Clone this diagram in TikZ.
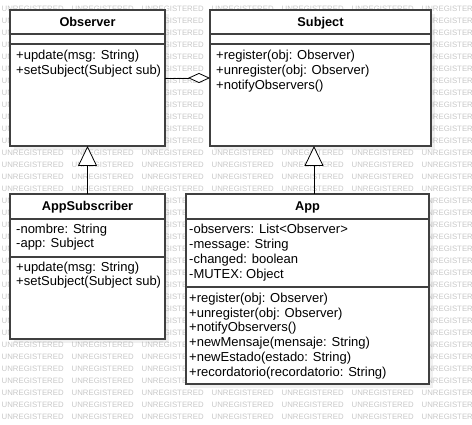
\documentclass[tikz,border=0pt]{standalone}
\usepackage{fontspec}
\setmainfont{Liberation Sans}
\usetikzlibrary{arrows.meta,calc,shadows}

\begin{document}
\begin{tikzpicture}
    [   x = 1pt, y = -1pt
    ,   font = \fontsize{13}{15}\selectfont
    ,   umlclass/.style =
        {   draw = black!75
        ,   line width = 1.2pt
        ,   fill = white
        ,   rectangle
        ,   inner sep = 0mm
        ,   outer sep = 0mm
        ,   drop shadow = {shadow xshift = 4pt, shadow yshift = -4pt, opacity = 0.12}
        }
    ,   title/.style =
        {   anchor = base
        ,   inner sep = 0mm
        ,   font = \fontsize{12.75}{15}\selectfont\bfseries
        }
    ,   member/.style =
        {   anchor = base west
        ,   inner sep = 0mm
        }
    ,   sep/.style = {draw = black!75, line width = 1.2pt}
    ,   wmark/.style =
        {   anchor = west
        ,   inner sep = 0mm
        ,   text = black!22
        ,   font = \fontsize{7.8}{8}\selectfont
        }
    ,   aggr/.style = {draw = black, line width = 0.8pt, -{Diamond[fill = white, length = 22pt, width = 10pt]}}
    ,   inherit/.style = {draw = black, line width = 0.8pt, -{Triangle[fill = white, length = 20pt, width = 19pt]}}
    ]
    \useasboundingbox (0,0) rectangle (472,425);

    % watermark
    \foreach\r in {0,...,34}
    {   \foreach\c in {0,...,6}
        {   \node[wmark] (wm\r-\c) at (\c*70+1.5, 8.7+12*\r) {UNREGISTERED};
        }
    }

    % classes
    \node[umlclass, minimum width = 155pt, minimum height = 136pt] (obs)  at ( 87.5, 78)   {};
    \node[umlclass, minimum width = 221pt, minimum height = 136pt] (subj) at (320.5, 78)   {};
    \node[umlclass, minimum width = 155pt, minimum height = 145pt] (asub) at ( 87.5,266.5) {};
    \node[umlclass, minimum width = 243pt, minimum height = 190pt] (app)  at (307.5,289)   {};

    \node[title] (obsT)  at ($(obs.north)+(0,17)$)  {Observer};
    \node[title] (subjT) at ($(subj.north)+(0,17)$) {Subject};
    \node[title] (asubT) at ($(asub.north)+(0,17)$) {AppSubscriber};
    \node[title] (appT)  at ($(app.north)+(0,17)$)  {App};

    \foreach\n/\a/\b in {obs/24/34,subj/24/34,asub/25/63,app/25/93}
    {   \draw[sep] ($(\n.north west)+(0,\a)$) -- ($(\n.north east)+(0,\a)$);
        \draw[sep] ($(\n.north west)+(0,\b)$) -- ($(\n.north east)+(0,\b)$);
    }

    \foreach\txt [count=\i] in {+update(msg: String),+setSubject(Subject sub)}
    {   \node[member] (obsM\i) at ($(obs.north west)+(6,35+15*\i)$) {\txt};
    }
    \foreach\txt [count=\i] in {+register(obj: Observer),+unregister(obj: Observer),+notifyObservers()}
    {   \node[member] (subjM\i) at ($(subj.north west)+(6,35+15*\i)$) {\txt};
    }
    \foreach\txt [count=\i] in {-nombre: String,-app: Subject}
    {   \node[member] (asubA\i) at ($(asub.north west)+(6,26+14*\i)$) {\txt};
    }
    \foreach\txt [count=\i] in {+update(msg: String),+setSubject(Subject sub)}
    {   \node[member] (asubM\i) at ($(asub.north west)+(6,64+14*\i)$) {\txt};
    }
    \foreach\txt [count=\i] in {-observers: List<Observer>,-message: String,-changed: boolean,-MUTEX: Object}
    {   \node[member] (appA\i) at ($(app.north west)+(3,25+14.8*\i)$) {\txt};
    }
    \foreach\txt [count=\i] in {+register(obj: Observer),+unregister(obj: Observer),+notifyObservers(),%
        +newMensaje(mensaje: String),+newEstado(estado: String),+recordatorio(recordatorio: String)}
    {   \node[member] (appM\i) at ($(app.north west)+(3,93+15*\i)$) {\txt};
    }

    % relations
    \coordinate (inhX) at (314,170);
    \draw[aggr] (obs.east) -- (subj.west);
    \draw[inherit] (asub.north) -- (obs.south);
    \draw[inherit] (app.north -| inhX) -- (subj.south -| inhX);

\end{tikzpicture}
\end{document}
